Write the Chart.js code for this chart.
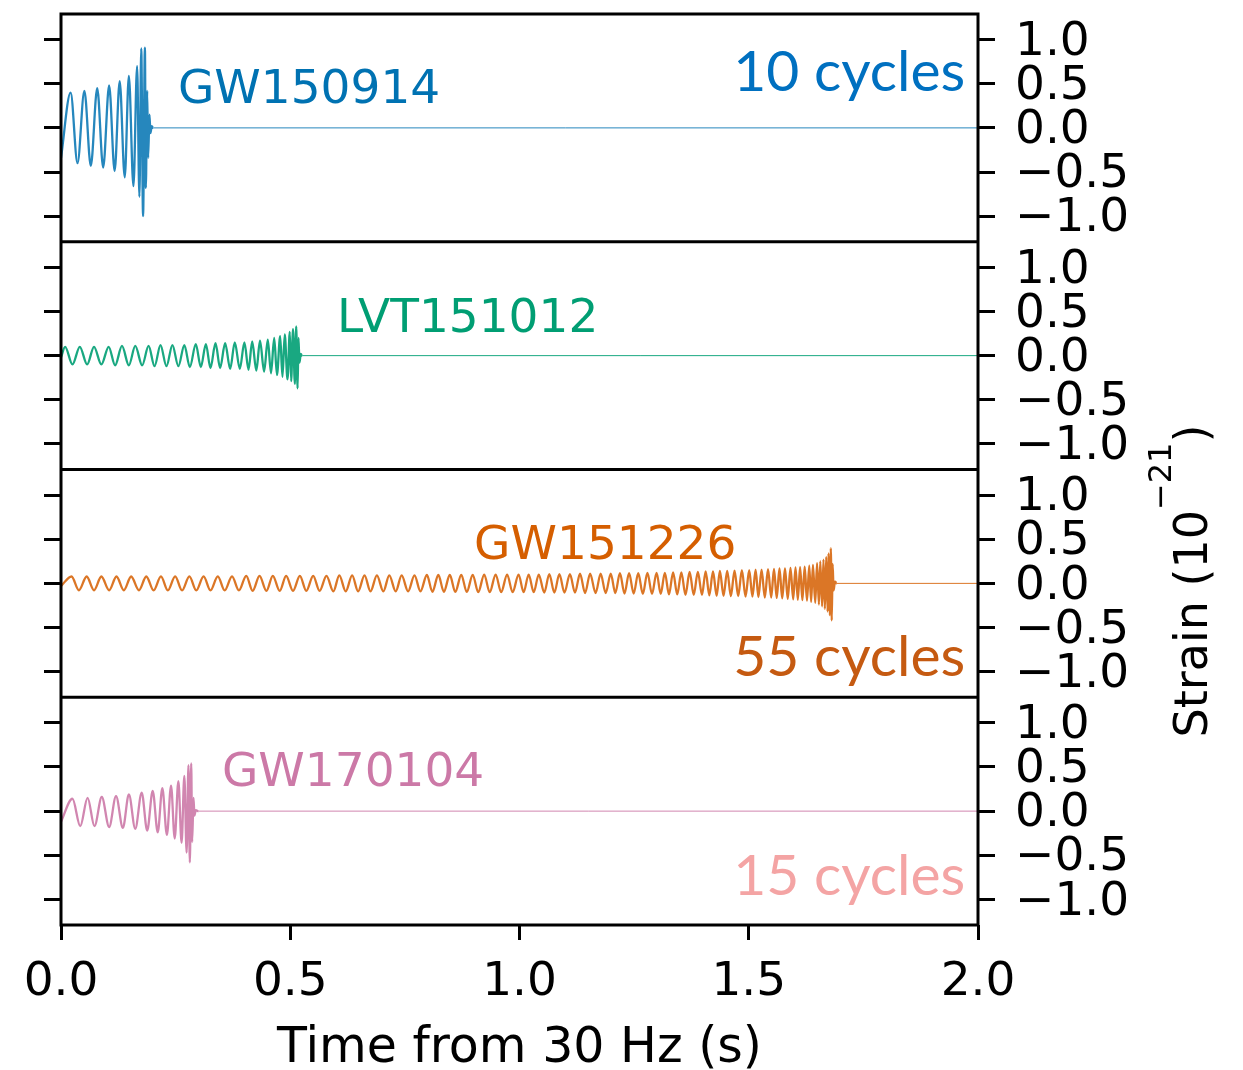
<!DOCTYPE html>
<html>
<head>
<meta charset="utf-8">
<script src="https://cdn.jsdelivr.net/npm/chart.js@4.4.1/dist/chart.umd.min.js"></script>
<style>
  html, body { margin: 0; padding: 0; background: #fff; }
  #strainChart { display: block; }
</style>
</head>
<body>
<canvas id="strainChart" width="1243" height="1070"></canvas>
<script>
// Whitened strain, [time from 30 Hz (s), strain (1e-21)] at each turning point
const gw150914 = [
  [0.000,-0.34],[0.021,0.40],[0.036,-0.40],[0.051,0.42],[0.065,-0.43],[0.079,0.45],[0.092,-0.45],
  [0.105,0.48],[0.117,-0.49],[0.128,0.53],[0.139,-0.56],[0.148,0.59],[0.158,-0.66],[0.166,0.70],
  [0.171,-0.78],[0.175,0.90],[0.179,-1.00],[0.183,0.91],[0.185,-0.68],[0.188,0.42],[0.190,-0.34],
  [0.193,0.15],[0.195,-0.06],[0.198,0.02],[0.201,0.00],[2.000,0.00]
];
const lvt151012 = [
  [0.000,-0.02],[0.009,0.10],[0.025,-0.10],[0.041,0.10],[0.057,-0.10],[0.072,0.10],[0.088,-0.10],
  [0.104,0.10],[0.118,-0.11],[0.133,0.11],[0.148,-0.11],[0.162,0.11],[0.177,-0.11],[0.191,0.11],
  [0.204,-0.12],[0.217,0.12],[0.230,-0.12],[0.243,0.12],[0.256,-0.12],[0.269,0.12],[0.281,-0.13],
  [0.294,0.13],[0.305,-0.13],[0.316,0.13],[0.326,-0.14],[0.337,0.14],[0.347,-0.14],[0.358,0.14],
  [0.369,-0.15],[0.379,0.15],[0.390,-0.15],[0.400,0.15],[0.409,-0.16],[0.417,0.16],[0.426,-0.17],
  [0.434,0.17],[0.443,-0.18],[0.451,0.18],[0.458,-0.20],[0.465,0.20],[0.471,-0.22],[0.478,0.22],
  [0.483,-0.24],[0.488,0.24],[0.494,-0.27],[0.499,0.27],[0.502,-0.29],[0.506,0.30],[0.510,-0.32],
  [0.513,0.33],[0.516,-0.37],[0.518,0.20],[0.520,-0.08],[0.523,0.02],[0.526,0.00],[2.000,0.00]
];
const gw151226 = [
  [0.000,-0.03],[0.023,0.078],[0.039,-0.078],[0.056,0.078],[0.072,-0.078],[0.088,0.078],[0.105,-0.078],
  [0.121,0.078],[0.137,-0.078],[0.153,0.078],[0.170,-0.078],[0.186,0.078],[0.202,-0.08],[0.218,0.08],
  [0.233,-0.08],[0.249,0.08],[0.264,-0.08],[0.280,0.08],[0.295,-0.08],[0.311,0.08],[0.326,-0.08],
  [0.342,0.08],[0.357,-0.08],[0.373,0.08],[0.388,-0.08],[0.404,0.085],[0.418,-0.085],[0.433,0.085],
  [0.448,-0.085],[0.462,0.085],[0.477,-0.085],[0.491,0.085],[0.506,-0.085],[0.521,0.085],[0.535,-0.085],
  [0.550,0.085],[0.564,-0.085],[0.579,0.085],[0.594,-0.09],[0.607,0.09],[0.621,-0.09],[0.635,0.09],
  [0.648,-0.09],[0.662,0.09],[0.675,-0.09],[0.689,0.09],[0.703,-0.09],[0.716,0.09],[0.730,-0.09],
  [0.743,0.09],[0.757,-0.09],[0.771,0.09],[0.784,-0.09],[0.798,0.095],[0.810,-0.095],[0.823,0.095],
  [0.835,-0.095],[0.848,0.095],[0.860,-0.097],[0.873,0.097],[0.885,-0.097],[0.898,0.097],[0.910,-0.10],
  [0.923,0.10],[0.935,-0.10],[0.948,0.10],[0.960,-0.10],[0.973,0.10],[0.985,-0.10],[0.998,0.10],
  [1.009,-0.10],[1.020,0.10],[1.031,-0.10],[1.042,0.10],[1.054,-0.105],[1.065,0.105],[1.076,-0.105],
  [1.087,0.105],[1.098,-0.105],[1.110,0.105],[1.121,-0.105],[1.132,0.11],[1.143,-0.11],[1.154,0.11],
  [1.166,-0.11],[1.177,0.11],[1.188,-0.11],[1.199,0.11],[1.209,-0.11],[1.219,0.115],[1.229,-0.115],
  [1.239,0.115],[1.249,-0.115],[1.259,0.115],[1.269,-0.12],[1.279,0.12],[1.289,-0.12],[1.299,0.12],
  [1.308,-0.12],[1.317,0.12],[1.326,-0.125],[1.335,0.125],[1.344,-0.125],[1.353,0.125],[1.362,-0.13],
  [1.371,0.13],[1.380,-0.13],[1.389,0.13],[1.398,-0.13],[1.406,0.135],[1.414,-0.135],[1.422,0.135],
  [1.430,-0.14],[1.437,0.14],[1.445,-0.14],[1.453,0.14],[1.461,-0.145],[1.469,0.145],[1.477,-0.145],
  [1.485,0.15],[1.493,-0.15],[1.501,0.15],[1.508,-0.15],[1.515,0.155],[1.521,-0.155],[1.528,0.155],
  [1.535,-0.16],[1.542,0.16],[1.549,-0.16],[1.555,0.165],[1.561,-0.165],[1.567,0.17],[1.573,-0.17],
  [1.579,0.17],[1.585,-0.175],[1.591,0.175],[1.597,-0.18],[1.602,0.18],[1.607,-0.185],[1.612,0.185],
  [1.617,-0.19],[1.622,0.19],[1.627,-0.195],[1.632,0.20],[1.636,-0.21],[1.640,0.21],[1.645,-0.22],
  [1.649,0.23],[1.653,-0.24],[1.656,0.25],[1.660,-0.26],[1.663,0.27],[1.666,-0.29],[1.669,0.30],
  [1.672,-0.32],[1.674,0.34],[1.677,-0.36],[1.679,0.40],[1.681,-0.42],[1.683,0.22],[1.685,-0.08],
  [1.688,0.02],[1.692,0.00],[2.000,0.00]
];
const gw170104 = [
  [0.000,-0.12],[0.025,0.14],[0.042,-0.17],[0.058,0.15],[0.073,-0.17],[0.089,0.16],[0.105,-0.18],
  [0.120,0.17],[0.135,-0.19],[0.148,0.19],[0.162,-0.20],[0.176,0.21],[0.188,-0.22],[0.200,0.23],
  [0.211,-0.24],[0.221,0.26],[0.231,-0.27],[0.240,0.29],[0.248,-0.31],[0.256,0.34],[0.263,-0.36],
  [0.269,0.40],[0.274,-0.47],[0.278,0.52],[0.281,-0.58],[0.284,0.54],[0.286,-0.35],[0.289,0.15],
  [0.291,-0.05],[0.294,0.01],[0.300,0.00],[2.000,0.00]
];

const eventNames = ['GW150914', 'LVT151012', 'GW151226', 'GW170104'];
const cycleNotes = ['10 cycles', '', '55 cycles', '15 cycles'];
const strainTicks = [-1.0, -0.5, 0.0, 0.5, 1.0];
const timeTicks = [0.0, 0.5, 1.0, 1.5, 2.0];

const lineColors = ['rgba(0,114,178,0.85)', 'rgba(0,158,115,0.9)', 'rgba(213,94,0,0.85)', 'rgba(204,121,167,0.9)'];
const nameColors = ['#0072B2', '#009E73', '#D55E00', '#CC79A7'];
const noteColors = ['#0070C0', '', '#C55A11', '#F4A4A4'];

const tickFont = { family: 'DejaVu Sans', size: 47 };
const fmt = v => (v < 0 ? '\u2212' : '') + Math.abs(v).toFixed(1);

// label placement in data units of each panel
const nameSpots = [[0.255, 0.28], [0.602, 0.265], [0.901, 0.28], [0.351, 0.28]];
const noteSpots = [[1.972, 0.42], null, [1.972, -1.045], [1.972, -0.955]];

const series = [gw150914, lvt151012, gw151226, gw170104];

const noEdgePadding = s => { s.paddingTop = 0; s.paddingBottom = 0; };

const scales = {
  x: {
    type: 'linear',
    position: 'bottom',
    min: 0,
    max: 2,
    afterBuildTicks: s => { s.ticks = timeTicks.map(value => ({ value })); },
    afterFit: s => { s.height = 145; s.paddingLeft = 0; s.paddingRight = 0; },
    ticks: { callback: v => v.toFixed(1), font: tickFont, color: '#000', padding: 15, maxRotation: 0, autoSkip: false },
    grid: { drawOnChartArea: false, tickLength: 15, lineWidth: 3, color: '#000' },
    border: { display: false },
    title: {
      display: true,
      text: 'Time from 30 Hz (s)',
      color: '#000',
      font: { family: 'DejaVu Sans', size: 49 },
      padding: { top: 0, bottom: -9 }
    }
  }
};

series.forEach((_, i) => {
  scales['r' + i] = {
    type: 'linear',
    position: 'right',
    stack: 'right',
    stackWeight: 1,
    min: -1.29,
    max: 1.29,
    afterBuildTicks: s => { s.ticks = strainTicks.map(value => ({ value })); },
    afterFit: s => { s.width = 148; noEdgePadding(s); },
    ticks: { callback: fmt, font: tickFont, color: '#000', padding: 20, autoSkip: false, labelOffset: 3 },
    grid: { drawOnChartArea: false, tickLength: 17, lineWidth: 3, color: '#000' },
    border: { display: false }
  };
  scales['l' + i] = {
    type: 'linear',
    position: 'left',
    stack: 'left',
    stackWeight: 1,
    min: -1.29,
    max: 1.29,
    afterBuildTicks: s => { s.ticks = strainTicks.map(value => ({ value })); },
    afterFit: s => { s.width = 17; noEdgePadding(s); },
    ticks: { display: false },
    grid: { drawOnChartArea: false, tickLength: 17, lineWidth: 3, color: '#000' },
    border: { display: false }
  };
});

const datasets = series.map((pts, i) => ({
  label: eventNames[i],
  data: pts.map(([t, h]) => ({ x: t, y: h })),
  xAxisID: 'x',
  yAxisID: 'r' + i,
  borderColor: lineColors[i],
  borderWidth: 2.3,
  pointRadius: 0,
  fill: false,
  cubicInterpolationMode: 'monotone',
  segment: { borderWidth: ctx => (ctx.p1.parsed.x === 2 && ctx.p0.parsed.y === 0) ? 1 : undefined }
}));

// panel frames, event names and cycle counts
const panelDecor = {
  id: 'panelDecor',
  afterDatasetsDraw(chart) {
    const { ctx, chartArea: a, scales: sc } = chart;
    ctx.save();
    ctx.strokeStyle = '#000';
    ctx.lineWidth = 3;
    ctx.strokeRect(a.left, a.top, a.right - a.left, a.bottom - a.top);
    for (let i = 0; i < series.length - 1; i++) {
      const y = sc['r' + i].bottom;
      ctx.beginPath();
      ctx.moveTo(a.left, y);
      ctx.lineTo(a.right, y);
      ctx.stroke();
    }
    ctx.textBaseline = 'alphabetic';
    series.forEach((_, i) => {
      const ys = sc['r' + i];
      ctx.font = '47px "DejaVu Sans"';
      ctx.fillStyle = nameColors[i];
      ctx.textAlign = 'left';
      ctx.fillText(eventNames[i], sc.x.getPixelForValue(nameSpots[i][0]), ys.getPixelForValue(nameSpots[i][1]));
      if (noteSpots[i]) {
        ctx.font = '57px Lato';
        ctx.fillStyle = noteColors[i];
        ctx.textAlign = 'right';
        ctx.fillText(cycleNotes[i], sc.x.getPixelForValue(noteSpots[i][0]), ys.getPixelForValue(noteSpots[i][1]));
      }
    });
    ctx.restore();
  },
  afterDraw(chart) {
    // right-hand axis title with a raised exponent
    const { ctx } = chart;
    const main = '46px "DejaVu Sans"';
    const sup = '32px "DejaVu Sans"';
    ctx.save();
    ctx.font = main;
    const w1 = ctx.measureText('Strain (10').width;
    const w3 = ctx.measureText(')').width;
    ctx.font = sup;
    const w2 = ctx.measureText('\u221221').width;
    const total = w1 + w2 + w3;
    ctx.translate(1207, 581 + total / 2);
    ctx.rotate(-Math.PI / 2);
    ctx.fillStyle = '#000';
    ctx.textAlign = 'left';
    ctx.textBaseline = 'alphabetic';
    ctx.font = main;
    ctx.fillText('Strain (10', 0, 0);
    ctx.font = sup;
    ctx.fillText('\u221221', w1, -36);
    ctx.font = main;
    ctx.fillText(')', w1 + w2, 0);
    ctx.restore();
  }
};

new Chart(document.getElementById('strainChart'), {
  type: 'line',
  data: { datasets },
  options: {
    responsive: false,
    animation: false,
    devicePixelRatio: 1,
    layout: { padding: { left: 44, right: 117, top: 14, bottom: 0 } },
    plugins: { legend: { display: false }, tooltip: { enabled: false } },
    scales
  },
  plugins: [panelDecor]
});
</script>
</body>
</html>
